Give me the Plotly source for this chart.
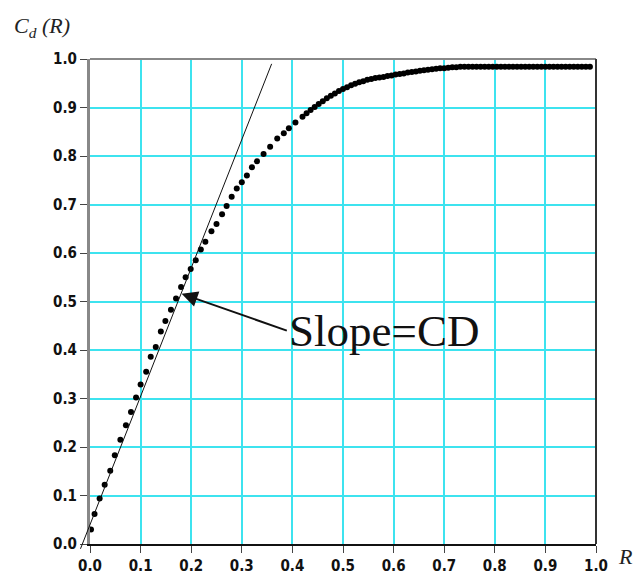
import plotly.graph_objects as go

# ---- data ----
R_VALUES = [0.002, 0.009, 0.019, 0.029, 0.040, 0.049, 0.060, 0.071, 0.081, 0.091,
            0.100, 0.111, 0.120, 0.130, 0.140, 0.149, 0.160, 0.170, 0.180, 0.189,
            0.199, 0.209, 0.219, 0.228, 0.240, 0.250, 0.261, 0.270, 0.280, 0.290,
            0.300, 0.310, 0.320, 0.330, 0.343, 0.356, 0.370, 0.383, 0.393, 0.406,
            0.420, 0.428, 0.436, 0.444, 0.452, 0.460, 0.468, 0.476, 0.484, 0.492,
            0.500, 0.508, 0.516, 0.524, 0.532, 0.540, 0.548, 0.556, 0.564, 0.572,
            0.580, 0.588, 0.596, 0.604, 0.612, 0.620, 0.628, 0.636, 0.644, 0.652,
            0.660, 0.668, 0.676, 0.684, 0.692, 0.700, 0.708, 0.716, 0.724, 0.732,
            0.740, 0.748, 0.756, 0.764, 0.772, 0.780, 0.788, 0.796, 0.804, 0.812,
            0.820, 0.828, 0.836, 0.844, 0.852, 0.860, 0.868, 0.876, 0.884, 0.892,
            0.900, 0.908, 0.916, 0.924, 0.932, 0.940, 0.948, 0.956, 0.964, 0.972,
            0.980, 0.988]
CD_VALUES = [0.030, 0.062, 0.094, 0.122, 0.151, 0.183, 0.215, 0.245, 0.272, 0.302,
             0.329, 0.355, 0.386, 0.406, 0.438, 0.460, 0.483, 0.506, 0.530, 0.550,
             0.567, 0.585, 0.607, 0.623, 0.645, 0.660, 0.680, 0.697, 0.716, 0.733,
             0.746, 0.760, 0.777, 0.789, 0.804, 0.819, 0.836, 0.847, 0.857, 0.869,
             0.881, 0.888, 0.895, 0.901, 0.907, 0.913, 0.919, 0.924, 0.929, 0.934,
             0.938, 0.942, 0.946, 0.949, 0.952, 0.954, 0.957, 0.959, 0.961, 0.962,
             0.963, 0.965, 0.966, 0.968, 0.969, 0.970, 0.972, 0.973, 0.974, 0.976,
             0.977, 0.978, 0.979, 0.980, 0.981, 0.981, 0.982, 0.983, 0.983, 0.984,
             0.984, 0.984, 0.984, 0.984, 0.984, 0.984, 0.984, 0.984, 0.984, 0.984,
             0.984, 0.984, 0.984, 0.984, 0.984, 0.984, 0.984, 0.984, 0.984, 0.984,
             0.984, 0.984, 0.984, 0.984, 0.984, 0.984, 0.984, 0.984, 0.984, 0.984,
             0.984, 0.984]

# tangent line endpoints (slope = CD)
TANGENT_X = [-0.020, 0.359]
TANGENT_Y = [-0.013, 0.990]

TICK_VALS = [0.0, 0.1, 0.2, 0.3, 0.4, 0.5, 0.6, 0.7, 0.8, 0.9, 1.0]
TICK_TEXT = ["0.0", "0.1", "0.2", "0.3", "0.4", "0.5", "0.6", "0.7", "0.8", "0.9", "1.0"]

# annotation arrow: tip on curve, label box starting at arrow tail
ARROW_TIP = (0.181, 0.516)
LABEL_POS = (0.389, 0.440)

GRID = "#3de3ef"
TICKFONT = dict(family="DejaVu Sans Condensed, Liberation Sans Narrow, DejaVu Sans",
                size=15, color="#111111", weight="bold")
SERIF = "Liberation Serif, Times New Roman, serif"

fig = go.Figure()
fig.add_trace(go.Scatter(
    x=R_VALUES, y=CD_VALUES, mode="markers",
    marker=dict(size=6, color="black"),
    showlegend=False, hoverinfo="skip"))

axis_common = dict(
    tickvals=TICK_VALS, ticktext=TICK_TEXT, tickfont=TICKFONT,
    showgrid=True, gridcolor=GRID, gridwidth=1.5,
    zeroline=False, ticks="outside", ticklen=7, tickwidth=1, tickcolor="#444444",
)

fig.update_layout(
    width=643, height=587,
    margin=dict(l=90, r=47, t=59, b=30),
    paper_bgcolor="white", plot_bgcolor="white",
    xaxis=dict(range=[0, 1.0], showline=True, linecolor="#111111", linewidth=2,
               **axis_common),
    yaxis=dict(range=[0, 1.0], showline=True, linecolor="#888888", linewidth=3,
               **axis_common),
    shapes=[
        dict(type="line", xref="paper", yref="paper", x0=0, x1=1, y0=1, y1=1,
             line=dict(color="#888888", width=2)),
        dict(type="line", xref="paper", yref="paper", x0=1, x1=1, y0=0, y1=1,
             line=dict(color="#333333", width=2)),
    ],
    annotations=[
        # tangent line
        dict(x=TANGENT_X[1], y=TANGENT_Y[1], ax=TANGENT_X[0], ay=TANGENT_Y[0],
             xref="x", yref="y", axref="x", ayref="y", text="",
             showarrow=True, arrowhead=0, arrowwidth=1, arrowcolor="#111111"),
        # label with arrow to curve
        dict(x=ARROW_TIP[0], y=ARROW_TIP[1], ax=LABEL_POS[0], ay=LABEL_POS[1],
             xref="x", yref="y", axref="x", ayref="y",
             text="Slope=CD", xanchor="left", yanchor="middle",
             showarrow=True, arrowhead=2, arrowsize=1.6, arrowwidth=2,
             arrowcolor="#111111",
             font=dict(family=SERIF, size=45, color="#111111")),
        # axis titles
        dict(x=-0.155, y=1.066, xref="paper", yref="paper",
             text="<i>C</i><sub><i>d</i></sub><i> (R)</i>", showarrow=False,
             xanchor="left", yanchor="middle",
             font=dict(family=SERIF, size=22, color="#222222")),
        dict(x=1.040, y=-0.025, xref="paper", yref="paper",
             text="<i>R</i>", showarrow=False, xanchor="left", yanchor="middle",
             font=dict(family=SERIF, size=22, color="#222222")),
    ],
)

fig.write_html("out.html")
